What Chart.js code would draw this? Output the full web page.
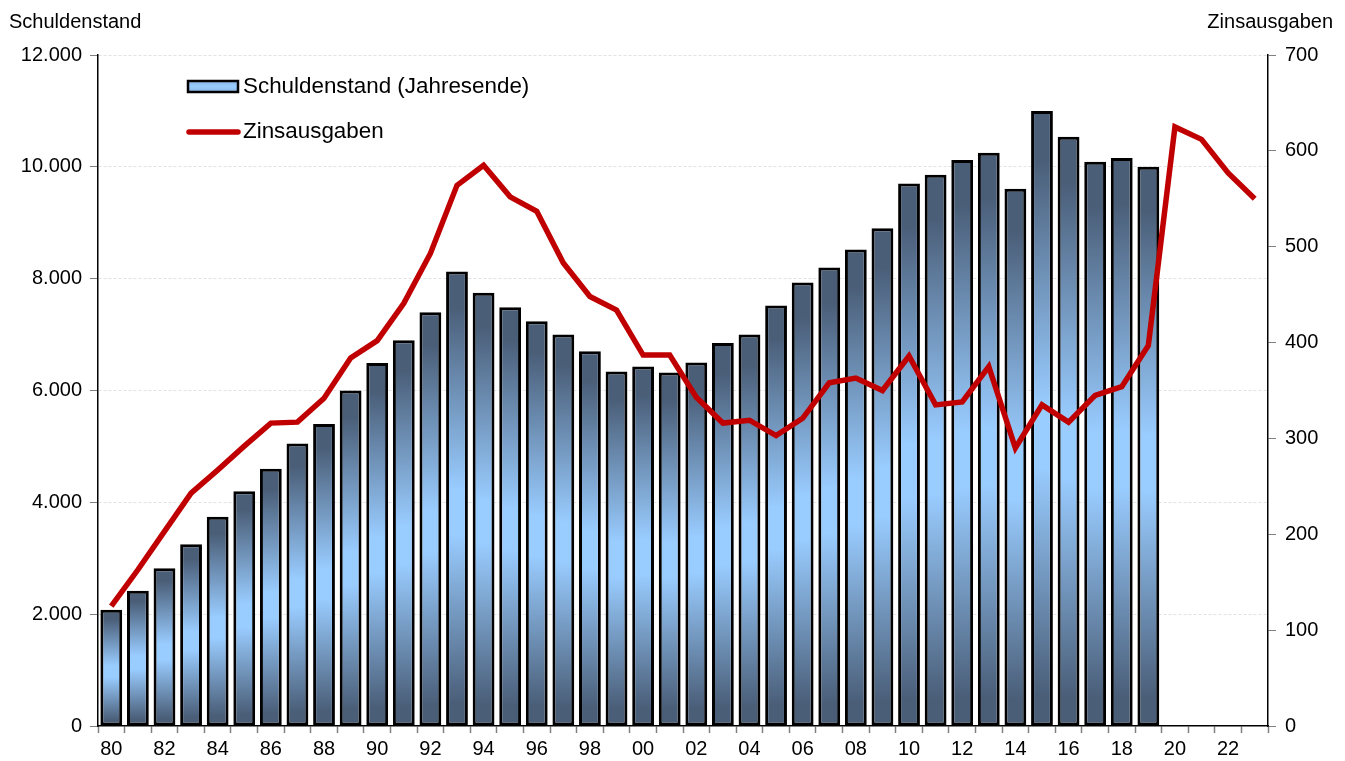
<!DOCTYPE html>
<html>
<head>
<meta charset="utf-8">
<script src="https://cdn.jsdelivr.net/npm/chart.js@4.4.1/dist/chart.umd.min.js"></script>
<style>
  html, body { margin: 0; padding: 0; background: #fff; }
  #wrap { position: relative; width: 1345px; height: 761px; }
  canvas { display: block; }
</style>
</head>
<body>
<div id="wrap"><canvas id="c" width="1345" height="761"></canvas></div>
<script>
// Categories (years 1980-2023, shown as two digits)
const years = ['80','81','82','83','84','85','86','87','88','89',
               '90','91','92','93','94','95','96','97','98','99',
               '00','01','02','03','04','05','06','07','08','09',
               '10','11','12','13','14','15','16','17','18','19',
               '20','21','22','23'];
// Tick labels shown on the x axis (every second year)
const xTickLabels = ['80','','82','','84','','86','','88','',
                     '90','','92','','94','','96','','98','',
                     '00','','02','','04','','06','','08','',
                     '10','','12','','14','','16','','18','',
                     '20','','22',''];
// Schuldenstand (Jahresende), left axis, 1980-2019
const schuldenstand = [2080,2420,2820,3250,3740,4200,4600,5050,5400,6000,
                       6490,6900,7400,8130,7750,7490,7240,7000,6700,6340,
                       6430,6320,6500,6850,7000,7520,7930,8200,8520,8900,
                       9700,9860,10120,10250,9610,11000,10540,10090,10160,10000];
// Zinsausgaben, right axis, 1980-2023
const zinsausgaben = [125,163,203,243,267,292,316,317,342,384,
                      402,441,493,564,585,552,537,483,448,434,
                      387,387,343,316,319,303,321,358,363,350,
                      386,335,338,375,290,335,317,345,354,397,
                      625,612,577,550];
// Axis tick settings
const leftTicks = { min: 0, max: 12000, step: 2000 };
const rightTicks = { min: 0, max: 700, step: 100 };
const legendLabels = ['Schuldenstand (Jahresende)', 'Zinsausgaben'];
const axisTitles = ['Schuldenstand', 'Zinsausgaben'];

const FONT = 'Liberation Sans, Arial, sans-serif';
const DARK = '#4a5e78';
const LIGHT = '#99ccff';
const RED = '#c00000';

function fmtDE(v) {
  return v.toLocaleString('de-DE');
}

const overlay = {
  id: 'overlay',
  afterDraw(chart) {
    const ctx = chart.ctx;
    ctx.save();
    ctx.fillStyle = '#000';
    ctx.font = '20px ' + FONT;
    ctx.textBaseline = 'middle';
    ctx.textAlign = 'left';
    ctx.fillText(axisTitles[0], 9, 22);
    ctx.textAlign = 'right';
    ctx.fillText(axisTitles[1], 1333, 22);

    // legend
    ctx.font = '22.4px ' + FONT;
    ctx.textAlign = 'left';
    const g = ctx.createLinearGradient(0, 81, 0, 92);
    g.addColorStop(0, '#8ab8e6');
    g.addColorStop(0.5, LIGHT);
    g.addColorStop(1, '#8ab8e6');
    ctx.fillStyle = g;
    ctx.fillRect(188, 81, 50, 11);
    ctx.strokeStyle = '#000';
    ctx.lineWidth = 2.5;
    ctx.strokeRect(188, 81, 50, 11);
    ctx.fillStyle = '#000';
    ctx.fillText(legendLabels[0], 243, 87);
    ctx.strokeStyle = RED;
    ctx.lineWidth = 5.5;
    ctx.lineCap = 'round';
    ctx.beginPath();
    ctx.moveTo(189, 132);
    ctx.lineTo(238, 132);
    ctx.stroke();
    ctx.fillText(legendLabels[1], 243, 132);
    ctx.restore();
  }
};

const chart = new Chart(document.getElementById('c'), {
  data: {
    labels: years,
    datasets: [
      {
        type: 'line',
        label: legendLabels[1],
        data: zinsausgaben,
        yAxisID: 'y2',
        borderColor: RED,
        borderWidth: 5.5,
        pointRadius: 0,
        tension: 0,
        fill: false,
        order: 0,
        borderJoinStyle: 'miter',
        clip: false
      },
      {
        type: 'bar',
        label: legendLabels[0],
        data: schuldenstand,
        yAxisID: 'y',
        borderColor: '#000',
        borderWidth: 3,
        borderSkipped: false,
        barPercentage: 0.82,
        categoryPercentage: 1.0,
        order: 1,
        backgroundColor: (c) => {
          const ch = c.chart;
          if (!ch.chartArea || c.type !== 'data' || c.raw == null) return LIGHT;
          const ys = ch.scales.y;
          const top = ys.getPixelForValue(c.raw);
          const bottom = ys.getPixelForValue(0);
          if (!isFinite(top) || !isFinite(bottom) || top === bottom) return LIGHT;
          const g = ch.ctx.createLinearGradient(0, top, 0, bottom);
          g.addColorStop(0, DARK);
          g.addColorStop(0.08, DARK);
          g.addColorStop(0.48, LIGHT);
          g.addColorStop(0.58, LIGHT);
          g.addColorStop(0.95, DARK);
          g.addColorStop(1, DARK);
          return g;
        }
      }
    ]
  },
  options: {
    responsive: false,
    animation: false,
    layout: { padding: { top: 55, left: 0, right: 0, bottom: 0 } },
    plugins: { legend: { display: false }, tooltip: { enabled: false }, title: { display: false } },
    scales: {
      x: {
        type: 'category',
        offset: true,
        grid: {
          offset: true,
          drawOnChartArea: false,
          drawTicks: true,
          tickLength: 7,
          tickColor: '#808080',
          tickWidth: 1.5
        },
        border: { display: true, color: '#000', width: 1.5 },
        ticks: {
          autoSkip: false,
          maxRotation: 0,
          minRotation: 0,
          padding: 4,
          color: '#000',
          font: { family: FONT, size: 20 },
          callback: (v, i) => xTickLabels[i]
        },
        afterFit: (s) => { s.height = 35; }
      },
      y: {
        position: 'left',
        min: leftTicks.min,
        max: leftTicks.max,
        ticks: {
          stepSize: leftTicks.step,
          padding: 8,
          color: '#000',
          font: { family: FONT, size: 20 },
          callback: (v) => fmtDE(v)
        },
        grid: {
          color: (c) => (c.tick && c.tick.value === 0) ? 'rgba(0,0,0,0)' : '#e2e2e2',
          lineWidth: 1,
          drawTicks: true,
          tickLength: 8,
          tickColor: '#808080',
          tickBorderDash: [1, 0]
        },
        border: { display: true, color: '#000', width: 1.5, dash: [3, 2] },
        afterFit: (s) => { s.width = 98; }
      },
      y2: {
        position: 'right',
        min: rightTicks.min,
        max: rightTicks.max,
        ticks: {
          stepSize: rightTicks.step,
          padding: 9,
          color: '#000',
          font: { family: FONT, size: 20 },
          callback: (v) => fmtDE(v)
        },
        grid: {
          drawOnChartArea: false,
          drawTicks: true,
          tickLength: 8,
          tickColor: '#808080'
        },
        border: { display: true, color: '#000', width: 1.5 },
        afterFit: (s) => { s.width = 77; }
      }
    }
  },
  plugins: [overlay]
});
</script>
</body>
</html>
